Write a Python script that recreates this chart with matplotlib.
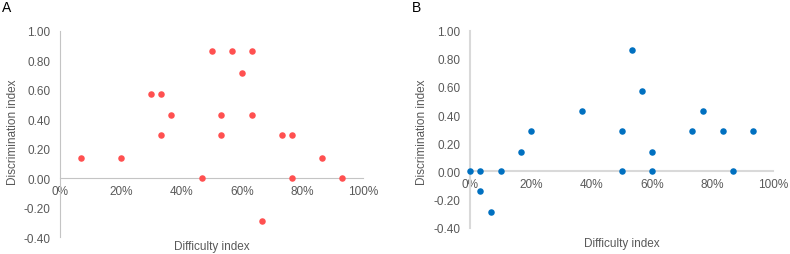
import matplotlib
matplotlib.use("Agg")
import matplotlib.pyplot as plt
from matplotlib.ticker import PercentFormatter, FormatStrFormatter

plt.rcParams['font.family'] = ['Liberation Sans', 'DejaVu Sans']

# panel A: difficulty (fraction) vs discrimination
diff_a = [0.067, 0.20, 0.30, 0.333, 0.333, 0.367, 0.467, 0.50, 0.533, 0.533,
          0.567, 0.60, 0.633, 0.633, 0.667, 0.733, 0.767, 0.767, 0.867, 0.933]
disc_a = [0.14, 0.14, 0.57, 0.57, 0.29, 0.43, 0.00, 0.86, 0.43, 0.29,
          0.86, 0.71, 0.86, 0.43, -0.29, 0.29, 0.29, 0.00, 0.14, 0.00]

# panel B
diff_b = [0.0, 0.033, 0.033, 0.067, 0.10, 0.167, 0.20, 0.367, 0.50, 0.50,
          0.533, 0.567, 0.60, 0.60, 0.733, 0.767, 0.833, 0.867, 0.933]
disc_b = [0.00, 0.00, -0.14, -0.29, 0.00, 0.14, 0.29, 0.43, 0.29, 0.00,
          0.86, 0.57, 0.14, 0.00, 0.29, 0.43, 0.29, 0.00, 0.29]

x_ticks = [0, 0.2, 0.4, 0.6, 0.8, 1.0]
y_ticks = [-0.4, -0.2, 0.0, 0.2, 0.4, 0.6, 0.8, 1.0]

W, H = 790, 255
fig = plt.figure(figsize=(W / 100, H / 100), dpi=100)

grey = '#595959'


def px_axes(left, top, right, bottom):
  return fig.add_axes([left / W, 1 - bottom / H, (right - left) / W, (bottom - top) / H])


def style(ax, x, y, color, line, lw):
  ax.scatter(x, y, s=22, color=color, clip_on=False, zorder=3, linewidths=0)
  ax.set_xlim(0, 1.0)
  ax.set_ylim(-0.4, 1.0)
  ax.set_xticks(x_ticks)
  ax.set_yticks(y_ticks)
  ax.xaxis.set_major_formatter(PercentFormatter(1.0, decimals=0))
  ax.yaxis.set_major_formatter(FormatStrFormatter('%.2f'))
  for s in ['top', 'right']:
    ax.spines[s].set_visible(False)
  ax.spines['left'].set_position(('data', 0))
  ax.spines['bottom'].set_position(('data', 0))
  for s in ['left', 'bottom']:
    ax.spines[s].set_color(line)
    ax.spines[s].set_linewidth(lw)
  ax.tick_params(axis='both', length=0, labelsize=8.5, labelcolor=grey)
  ax.tick_params(axis='y', pad=7)
  ax.tick_params(axis='x', pad=5)
  ax.patch.set_alpha(0)


ax1 = px_axes(60.3, 31.7, 362.7, 238.3)
style(ax1, diff_a, disc_a, '#ff5050', '#c4c4c4', 0.8)
ax2 = px_axes(470.3, 31.7, 773.3, 228.7)
style(ax2, diff_b, disc_b, '#0070c0', '#d9d9d9', 1.5)

fig.text(13 / W, 1 - 132 / H, 'Discrimination index', rotation=90, ha='center', va='center',
         fontsize=8.5, color=grey)
fig.text(212 / W, 1 - 247 / H, 'Difficulty index', ha='center', va='center', fontsize=8.5, color=grey)
fig.text(422 / W, 1 - 132 / H, 'Discrimination index', rotation=90, ha='center', va='center',
         fontsize=8.5, color=grey)
fig.text(622 / W, 1 - 244 / H, 'Difficulty index', ha='center', va='center', fontsize=8.5, color=grey)

fig.text(2 / W, 1 - 8 / H, 'A', ha='left', va='center', fontsize=10, color='black')
fig.text(412 / W, 1 - 8 / H, 'B', ha='left', va='center', fontsize=10, color='black')

fig.savefig('out.png', dpi=100)
